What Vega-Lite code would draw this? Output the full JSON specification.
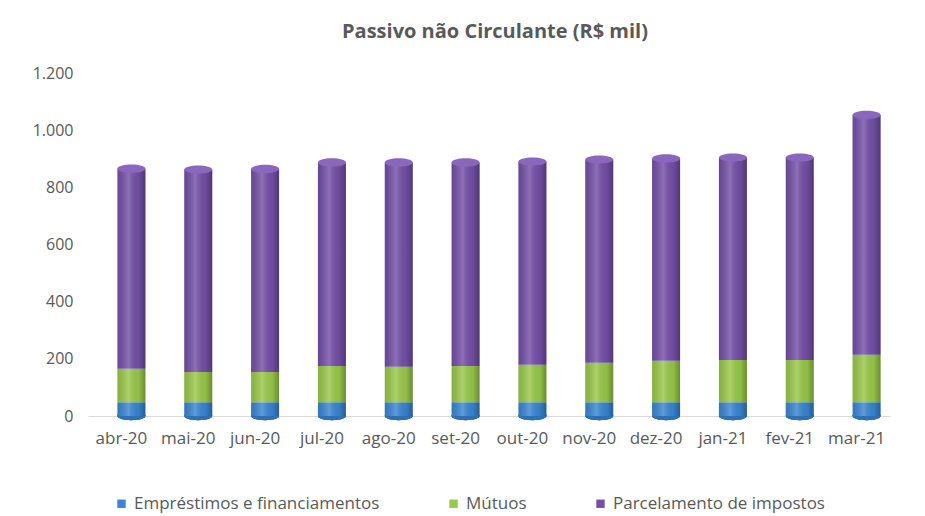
{
  "$schema": "https://vega.github.io/schema/vega-lite/v6.json",
  "width": 802,
  "height": 343,
  "autosize": {"type": "none"},
  "padding": {"left": 88, "top": 73, "right": 35, "bottom": 100},
  "background": "white",
  "config": {
    "locale": {"number": {"decimal": ",", "thousands": ".", "grouping": [3], "currency": ["R$ ", ""]}},
    "view": {"stroke": null},
    "font": "Open Sans"
  },
  "title": {
    "text": "Passivo não Circulante (R$ mil)",
    "fontSize": 20,
    "fontWeight": "bold",
    "color": "#595959",
    "anchor": "middle",
    "offset": 23,
    "dx": 6
  },
  "data": {
    "values": [
      {"mes": "abr-20", "serie": "Empréstimos e financiamentos", "valor": 48},
      {"mes": "abr-20", "serie": "Mútuos", "valor": 117},
      {"mes": "abr-20", "serie": "Parcelamento de impostos", "valor": 700},
      {"mes": "mai-20", "serie": "Empréstimos e financiamentos", "valor": 48},
      {"mes": "mai-20", "serie": "Mútuos", "valor": 106},
      {"mes": "mai-20", "serie": "Parcelamento de impostos", "valor": 708},
      {"mes": "jun-20", "serie": "Empréstimos e financiamentos", "valor": 48},
      {"mes": "jun-20", "serie": "Mútuos", "valor": 106},
      {"mes": "jun-20", "serie": "Parcelamento de impostos", "valor": 710},
      {"mes": "jul-20", "serie": "Empréstimos e financiamentos", "valor": 48},
      {"mes": "jul-20", "serie": "Mútuos", "valor": 127},
      {"mes": "jul-20", "serie": "Parcelamento de impostos", "valor": 712},
      {"mes": "ago-20", "serie": "Empréstimos e financiamentos", "valor": 48},
      {"mes": "ago-20", "serie": "Mútuos", "valor": 124},
      {"mes": "ago-20", "serie": "Parcelamento de impostos", "valor": 715},
      {"mes": "set-20", "serie": "Empréstimos e financiamentos", "valor": 48},
      {"mes": "set-20", "serie": "Mútuos", "valor": 127},
      {"mes": "set-20", "serie": "Parcelamento de impostos", "valor": 712},
      {"mes": "out-20", "serie": "Empréstimos e financiamentos", "valor": 48},
      {"mes": "out-20", "serie": "Mútuos", "valor": 131},
      {"mes": "out-20", "serie": "Parcelamento de impostos", "valor": 711},
      {"mes": "nov-20", "serie": "Empréstimos e financiamentos", "valor": 48},
      {"mes": "nov-20", "serie": "Mútuos", "valor": 138},
      {"mes": "nov-20", "serie": "Parcelamento de impostos", "valor": 711},
      {"mes": "dez-20", "serie": "Empréstimos e financiamentos", "valor": 48},
      {"mes": "dez-20", "serie": "Mútuos", "valor": 145},
      {"mes": "dez-20", "serie": "Parcelamento de impostos", "valor": 708},
      {"mes": "jan-21", "serie": "Empréstimos e financiamentos", "valor": 48},
      {"mes": "jan-21", "serie": "Mútuos", "valor": 148},
      {"mes": "jan-21", "serie": "Parcelamento de impostos", "valor": 708},
      {"mes": "fev-21", "serie": "Empréstimos e financiamentos", "valor": 48},
      {"mes": "fev-21", "serie": "Mútuos", "valor": 148},
      {"mes": "fev-21", "serie": "Parcelamento de impostos", "valor": 708},
      {"mes": "mar-21", "serie": "Empréstimos e financiamentos", "valor": 48},
      {"mes": "mar-21", "serie": "Mútuos", "valor": 166},
      {"mes": "mar-21", "serie": "Parcelamento de impostos", "valor": 839}
    ]
  },
  "encoding": {
    "x": {
      "field": "mes",
      "type": "ordinal",
      "sort": null,
      "scale": {"type": "band", "paddingInner": 0, "paddingOuter": 0},
      "axis": {
        "title": null,
        "labelAngle": 0,
        "ticks": false,
        "domainColor": "#d9d9d9",
        "labelPadding": 14,
        "labelFontSize": 17,
        "labelColor": "#595959"
      }
    }
  },
  "layer": [
    {
      "mark": {
        "type": "point",
        "filled": true,
        "opacity": 1,
        "size": 784,
        "xOffset": 10,
        "color": "#2f6fb5",
        "shape": "M-1,0A1,0.3,0,1,1,1,0A1,0.3,0,1,1,-1,0Z"
      },
      "encoding": {
        "y": {"datum": 0, "type": "quantitative"}
      }
    },
    {
      "mark": {"type": "bar", "size": 28, "xOffset": 10},
      "encoding": {
        "y": {
          "field": "valor",
          "type": "quantitative",
          "scale": {"domain": [0, 1200]},
          "axis": {
            "title": null,
            "values": [0, 200, 400, 600, 800, 1000, 1200],
            "format": ",d",
            "ticks": false,
            "domain": false,
            "gridColor": "#d9d9d9",
            "labelPadding": 15,
            "labelFontSize": 16,
            "labelColor": "#595959"
          }
        },
        "order": {"field": "serie", "type": "nominal", "sort": "ascending"},
        "color": {
          "field": "serie",
          "type": "nominal",
          "scale": {
            "domain": ["Empréstimos e financiamentos", "Mútuos", "Parcelamento de impostos"],
            "range": ["#3a86d4", "#99c94a", "#7550a8"]
          },
          "legend": {
            "title": null,
            "orient": "none",
            "direction": "horizontal",
            "legendX": 25,
            "legendY": 422,
            "symbolType": "square",
            "symbolSize": 70,
            "labelFontSize": 17,
            "labelLimit": 0,
            "labelColor": "#595959",
            "columnPadding": 65
          }
        }
      }
    },
    {
      "mark": {
        "type": "bar",
        "size": 28,
        "xOffset": 10,
        "color": {
          "gradient": "linear",
          "x1": 0, "y1": 0, "x2": 1, "y2": 0,
          "stops": [
            {"offset": 0, "color": "rgba(0,0,0,0.12)"},
            {"offset": 0.4, "color": "rgba(255,255,255,0.18)"},
            {"offset": 0.75, "color": "rgba(0,0,0,0.05)"},
            {"offset": 1, "color": "rgba(0,0,0,0.3)"}
          ]
        }
      },
      "encoding": {
        "y": {"field": "valor", "type": "quantitative"},
        "order": {"field": "serie", "type": "nominal", "sort": "ascending"},
        "detail": {"field": "serie", "type": "nominal"}
      }
    },
    {
      "transform": [{"aggregate": [{"op": "sum", "field": "valor", "as": "total"}], "groupby": ["mes"]}],
      "mark": {
        "type": "point",
        "filled": true,
        "opacity": 1,
        "size": 784,
        "xOffset": 10,
        "color": "#8a66bd",
        "shape": "M-1,0A1,0.3,0,1,1,1,0A1,0.3,0,1,1,-1,0Z"
      },
      "encoding": {
        "y": {"field": "total", "type": "quantitative"}
      }
    }
  ]
}
